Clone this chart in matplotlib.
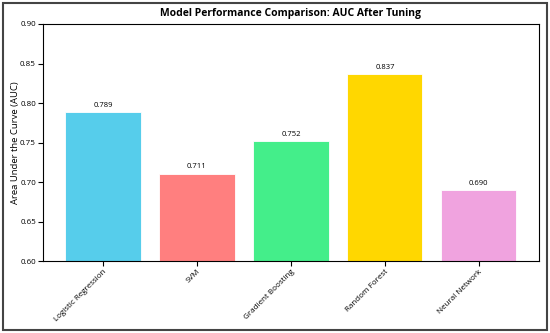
import matplotlib
matplotlib.use("Agg")
import matplotlib.pyplot as plt
from matplotlib.patches import Rectangle

plt.rcParams['font.family'] = ['Open Sans', 'DejaVu Sans']

# data
models = ["Logistic Regression", "SVM", "Gradient Boosting", "Random Forest", "Neural Network"]
auc = [0.789, 0.711, 0.752, 0.837, 0.690]
colors = ["#56CDEB", "#FF7F7F", "#44EE8A", "#FFD700", "#F0A3DF"]

fig, ax = plt.subplots(figsize=(5.5, 3.33), dpi=100)

# outer frame
fig.patches.append(Rectangle((0.005, 0.008), 0.99, 0.984, transform=fig.transFigure,
                             fill=False, edgecolor="#444444", linewidth=1.5))

bars = ax.bar(models, auc, color=colors, width=0.8, edgecolor="white", linewidth=0.6)

for b, v in zip(bars, auc):
    ax.text(b.get_x() + b.get_width() / 2, v + 0.004, f"{v:.3f}",
            ha="center", va="bottom", fontsize=5.5)

ax.set_ylim(0.6, 0.9)
ax.set_title("Model Performance Comparison: AUC After Tuning", fontsize=7.5, fontweight="bold")
ax.set_ylabel("Area Under the Curve (AUC)", fontsize=6.8)
ax.yaxis.set_label_coords(-0.047, 0.5)
ax.tick_params(axis="both", labelsize=5.8, length=3.5, pad=1.5)
plt.setp(ax.get_xticklabels(), rotation=45, ha="right", rotation_mode="anchor")

plt.subplots_adjust(left=0.078, right=0.98, top=0.928, bottom=0.215)
fig.savefig("out.png", dpi=100)
